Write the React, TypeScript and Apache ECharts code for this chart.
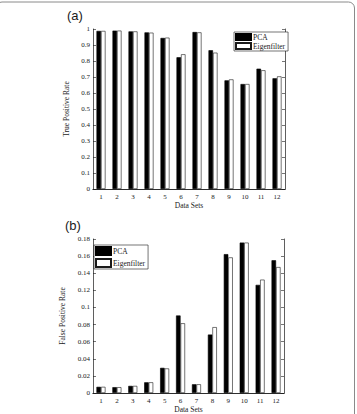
import React, { useEffect, useRef } from "react";
import * as echarts from "echarts";

// Data sets 1..12
const categories = ["1", "2", "3", "4", "5", "6", "7", "8", "9", "10", "11", "12"];

// (a) True positive rate
const tprPCA = [0.988, 0.99, 0.985, 0.979, 0.944, 0.823, 0.981, 0.867, 0.679, 0.656, 0.752, 0.692];
const tprEigen = [0.988, 0.99, 0.985, 0.977, 0.946, 0.842, 0.979, 0.852, 0.685, 0.656, 0.742, 0.704];

// (b) False positive rate
const fprPCA = [0.0072, 0.0068, 0.0083, 0.0125, 0.0294, 0.0906, 0.0102, 0.0683, 0.1623, 0.1758, 0.1264, 0.1551];
const fprEigen = [0.0072, 0.0068, 0.0083, 0.0125, 0.0287, 0.0815, 0.0102, 0.077, 0.1585, 0.1758, 0.1325, 0.1472];

const serif = "Liberation Serif";
const ink = "#1a1a1a";

function bottomX(gridIndex: number) {
  return {
    type: "category",
    gridIndex,
    data: categories,
    position: "bottom",
    boundaryGap: true,
    name: "Data Sets",
    nameLocation: "middle",
    nameGap: 12,
    nameTextStyle: { fontFamily: serif, fontSize: 7.5, color: ink },
    axisLine: { lineStyle: { color: ink, width: 0.7 } },
    axisTick: { inside: true, length: 3, alignWithLabel: true, lineStyle: { color: ink, width: 0.6 } },
    axisLabel: { fontFamily: serif, fontSize: 7, color: ink, margin: 4 },
    splitLine: { show: false },
  };
}

function topX(gridIndex: number) {
  return {
    type: "category",
    gridIndex,
    data: categories,
    position: "top",
    boundaryGap: true,
    axisLine: { lineStyle: { color: ink, width: 0.7 } },
    axisTick: { inside: true, length: 3, alignWithLabel: true, lineStyle: { color: ink, width: 0.6 } },
    axisLabel: { show: false },
    splitLine: { show: false },
  };
}

function leftY(gridIndex: number, max: number, interval: number, name: string, nameGap: number) {
  return {
    type: "value",
    gridIndex,
    min: 0,
    max,
    interval,
    position: "left",
    name,
    nameLocation: "middle",
    nameGap,
    nameTextStyle: { fontFamily: serif, fontSize: 7.5, color: ink },
    axisLine: { show: true, lineStyle: { color: ink, width: 0.7 } },
    axisTick: { show: true, inside: true, length: 3, lineStyle: { color: ink, width: 0.6 } },
    axisLabel: { fontFamily: serif, fontSize: 7, color: ink, margin: 3 },
    splitLine: { show: false },
  };
}

function rightY(gridIndex: number, max: number, interval: number) {
  return {
    type: "value",
    gridIndex,
    min: 0,
    max,
    interval,
    position: "right",
    axisLine: { show: true, lineStyle: { color: ink, width: 0.7 } },
    axisTick: { show: true, inside: true, length: 3, lineStyle: { color: ink, width: 0.6 } },
    axisLabel: { show: false },
    splitLine: { show: false },
  };
}

function barSeries(name: string, data: number[], idx: number, white: boolean) {
  return {
    type: "bar",
    name,
    data,
    xAxisIndex: idx,
    yAxisIndex: idx,
    barWidth: 4.5,
    barGap: "0%",
    itemStyle: white
      ? { color: "#ffffff", borderColor: ink, borderWidth: 0.6 }
      : { color: "#000000", borderColor: "#000000", borderWidth: 0.6 },
  };
}

function legendBox(left: number, top: number, itemHeight: number, itemGap: number) {
  return {
    left,
    top,
    orient: "vertical",
    data: ["PCA", "Eigenfilter"],
    icon: "rect",
    itemWidth: 15,
    itemHeight,
    itemGap,
    padding: [1, 3, 1, 1],
    borderColor: ink,
    borderWidth: 0.6,
    backgroundColor: "#ffffff",
    textStyle: { fontFamily: serif, fontSize: 7.5, color: ink, padding: [0, 0, 0, -3] },
    selectedMode: false,
  };
}

export default function App() {
  const ref = useRef<HTMLDivElement>(null);

  useEffect(() => {
    if (!ref.current) return;
    const chart = echarts.init(ref.current, undefined, { renderer: "svg" });
    chart.setOption({
      animation: false,
      backgroundColor: "#ffffff",
      title: [
        { text: "(a)", left: 62, top: 4, textStyle: { fontFamily: "Liberation Sans", fontSize: 13, fontWeight: "normal", color: ink } },
        { text: "(b)", left: 60, top: 214, textStyle: { fontFamily: "Liberation Sans", fontSize: 13, fontWeight: "normal", color: ink } },
      ],
      grid: [
        { left: 93, top: 29, width: 192, height: 160 },
        { left: 93, top: 239, width: 191, height: 159 },
      ],
      xAxis: [bottomX(0), bottomX(1), topX(0), topX(1)],
      yAxis: [
        leftY(0, 1, 0.1, "True Positive Rate", 16),
        leftY(1, 0.18, 0.02, "False Positive Rate", 22),
        rightY(0, 1, 0.1),
        rightY(1, 0.18, 0.02),
      ],
      legend: [legendBox(234, 32, 6, 1), legendBox(94, 245, 8, 2)],
      series: [
        barSeries("PCA", tprPCA, 0, false),
        barSeries("Eigenfilter", tprEigen, 0, true),
        barSeries("PCA", fprPCA, 1, false),
        barSeries("Eigenfilter", fprEigen, 1, true),
      ],
      graphic: [
        {
          type: "rect",
          silent: true,
          z: 100,
          shape: { x: -4, y: 2, width: 358.5, height: 420, r: 6 },
          style: { fill: "none", stroke: "#8a8a8a", lineWidth: 1 },
        },
      ],
    });
    return () => chart.dispose();
  }, []);

  return (
    <div
      ref={ref}
      style={{ position: "fixed", left: 0, top: 0, width: 357, height: 414 }}
    />
  );
}
